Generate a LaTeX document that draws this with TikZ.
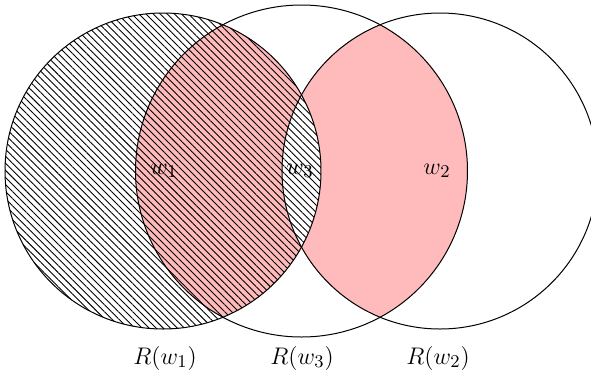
\documentclass[tikz,border=0pt]{standalone}
\usetikzlibrary{patterns.meta}
\definecolor{pinkfill}{RGB}{255,187,187}
\begin{document}
\begin{tikzpicture}[x=0.5pt,y=-0.5pt,
  ring/.style={draw=black, line width=0.5pt},
  lbl/.style={inner sep=0pt, font=\fontsize{12.5}{15}\selectfont},
  hatch/.style={pattern={Lines[angle=-45,distance=2.5pt,line width=0.45pt]}}]
\useasboundingbox (0,0) rectangle (591,377);
\clip (0,0) rectangle (591,377);
\coordinate (L) at (163,171);
\coordinate (M) at (301.5,171);
\coordinate (Rc) at (440,171);
% pink: middle circle intersected with symmetric difference of left and right
\begin{scope}
  \clip (M) circle[radius=166];
  \fill[pinkfill, even odd rule] (L) circle[radius=158] (Rc) circle[radius=158];
\end{scope}
% world labels
\node[lbl] (w1) at (164,171) {$w_1$};
\node[lbl] (w3) at (300,171) {$w_3$};
\node[lbl] (w2) at (437,171) {$w_2$};
% hatching of left circle
\path[hatch] (L) circle[radius=158];
% circles
\draw[ring] (L) circle[radius=158];
\draw[ring] (M) circle[radius=166];
\draw[ring] (Rc) circle[radius=158];
% region labels
\node[lbl] (r1) at (165,358) {$R(w_1)$};
\node[lbl] (r3) at (302,358) {$R(w_3)$};
\node[lbl] (r2) at (438,358) {$R(w_2)$};
\end{tikzpicture}
\end{document}
